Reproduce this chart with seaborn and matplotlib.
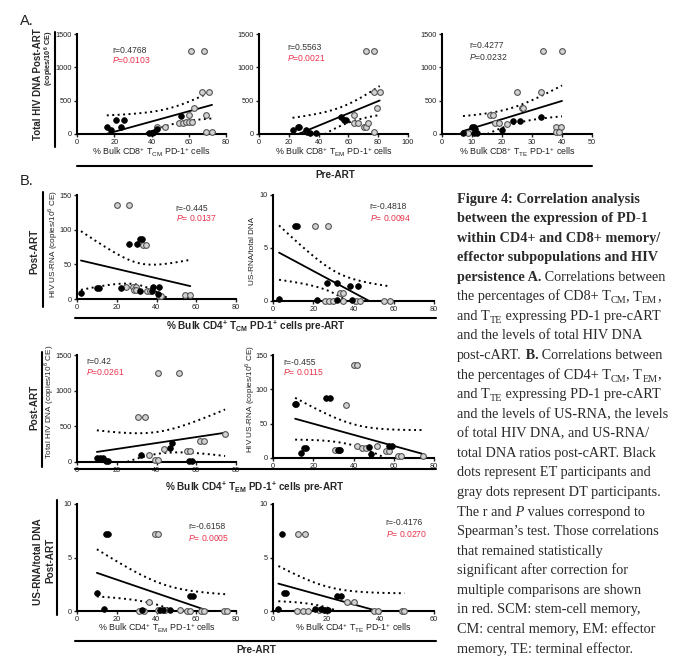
import numpy as np
import pandas as pd
import matplotlib.pyplot as plt
import seaborn as sns
from matplotlib.lines import Line2D

# ---- Panel A: % PD-1+ CD8 subsets (pre-ART) vs total HIV DNA (post-ART) ----
a1_et_x = [16, 18, 21, 25, 23.5, 38.5, 40, 41.5, 43, 56]
a1_et_y = [110, 60, 210, 210, 100, 10, 10, 35, 70, 270]
a1_dt_x = [61, 68, 67, 71, 63, 60, 69, 43, 47.5, 55, 57, 58.5, 60, 62, 69, 72.5]
a1_dt_y = [1250, 1250, 625, 625, 385, 285, 285, 100, 100, 160, 160, 180, 180, 180, 30, 30]

a2_et_x = [22.5, 26, 27, 31.5, 32.5, 34, 38, 55, 57, 58.5]
a2_et_y = [60, 100, 100, 60, 35, 20, 10, 260, 210, 210]
a2_dt_x = [71.5, 77, 77, 81, 79, 64, 64, 66.5, 70.5, 72, 73, 77]
a2_dt_y = [1250, 1250, 625, 625, 385, 285, 160, 160, 100, 100, 170, 30]

a3_et_x = [7, 10, 10.5, 11, 10.5, 11.5, 20, 23.5, 26, 33]
a3_et_y = [20, 100, 100, 70, 20, 20, 60, 200, 200, 260]
a3_dt_x = [33.5, 40, 25, 33, 26.5, 27, 16, 17, 17.5, 19, 21.5, 38, 39.5, 38, 39, 8.5]
a3_dt_y = [1250, 1250, 625, 625, 385, 385, 285, 285, 170, 160, 150, 100, 100, 30, 30, 20]

# ---- Panel B: % PD-1+ CD4 subsets (pre-ART) vs reservoir markers (post-ART) ----
b1l_et_x = [2, 10, 11, 22, 26, 30, 31.5, 32.5, 31.5, 37.5, 38, 41.5, 41]
b1l_et_y = [8.5, 15.5, 15.5, 16.5, 79, 79, 87, 87, 12, 12, 18, 18, 7.5]
b1l_dt_x = [20, 26, 33, 34.5, 24.5, 28, 29.5, 28.5, 29.5, 35, 36.5, 41.5, 42.5, 54.5, 57]
b1l_dt_y = [135, 135, 78, 78, 18, 18, 18, 12.5, 12.5, 11, 11, 5, 5, 6, 6]

b1r_et_x = [3, 11, 12, 22, 27, 32, 38.5, 42, 32, 39.5]
b1r_et_y = [0.2, 7.1, 7.1, 0.1, 1.7, 1.7, 1.4, 1.4, 0.1, 0.1]
b1r_dt_x = [21, 27.5, 33.5, 35, 26, 28, 30, 35, 41, 43, 55, 58]
b1r_dt_y = [7.1, 7.1, 0.8, 0.8, 0, 0, 0, 0, 0, 0, 0, 0]

b2l_et_x = [10, 11.5, 13, 14.5, 15.5, 32, 47, 48, 56.5, 58]
b2l_et_y = [55, 55, 55, 20, 20, 100, 195, 265, 20, 20]
b2l_dt_x = [41, 51.5, 30.5, 34, 62, 64, 74.5, 44, 55.5, 57, 36, 39, 41]
b2l_dt_y = [1250, 1250, 630, 630, 290, 290, 390, 185, 155, 155, 100, 30, 30]

b2r_et_x = [11, 11.5, 26.5, 28.5, 14, 15.5, 16.5, 32.5, 33.5, 47.5, 48.5, 57.5, 59]
b2r_et_y = [79, 79, 87, 87, 7.5, 14.5, 14.5, 11, 11, 16, 6.5, 18, 18]
b2r_dt_x = [40, 41.5, 36.5, 31, 33, 41.5, 44, 46, 51.5, 56, 57.5, 62, 63.5, 74.5]
b2r_dt_y = [135, 135, 77, 12, 12, 18, 14.5, 14.5, 18, 9.5, 9.5, 2.5, 2.5, 2.5]

b3l_et_x = [14.5, 15.5, 10, 13.5, 32.5, 42, 43.5, 47, 57, 58.5]
b3l_et_y = [7.2, 7.2, 1.7, 0.2, 0.1, 0.05, 0.05, 0.05, 1.4, 1.4]
b3l_dt_x = [39, 41, 36, 31, 33.5, 41, 44.5, 52, 55.5, 57, 62.5, 64, 74, 75.5]
b3l_dt_y = [7.2, 7.2, 0.85, 0, 0, 0.1, 0.1, 0.05, 0, 0, 0, 0, 0, 0]

b3r_et_x = [3.5, 2, 4, 5, 15.5, 18, 19.5, 20.5, 24, 25.5]
b3r_et_y = [7.2, 0.15, 1.7, 1.7, 0.15, 0.15, 0.05, 0.05, 1.4, 1.4]
b3r_dt_x = [9.5, 12, 27.5, 30, 9, 11, 13, 17, 19, 37.5, 39, 48, 49]
b3r_dt_y = [7.2, 7.2, 0.85, 0.85, 0, 0, 0, 0.1, 0.1, 0, 0, 0, 0]

# caption: each line is a list of (text, style) runs; b=bold, r=regular, i=italic, sub=subscript
caption_lines = [
    [("Figure 4: Correlation analysis", 'b')],
    [("between the expression of PD-1", 'b')],
    [("within CD4+ and CD8+ memory/", 'b')],
    [("effector subpopulations and HIV", 'b')],
    [("persistence A.", 'b'), (" Correlations between", 'r')],
    [("the percentages of CD8+ T", 'r'), ("CM", 'sub'), (", T", 'r'), ("EM", 'sub'), (",", 'r')],
    [("and T", 'r'), ("TE", 'sub'), (" expressing PD-1 pre-cART", 'r')],
    [("and the levels of total HIV DNA", 'r')],
    [("post-cART.", 'r'), (" B.", 'b'), (" Correlations between", 'r')],
    [("the percentages of CD4+ T", 'r'), ("CM", 'sub'), (", T", 'r'), ("EM", 'sub'), (",", 'r')],
    [("and T", 'r'), ("TE", 'sub'), (" expressing PD-1 pre-cART", 'r')],
    [("and the levels of US-RNA, the levels", 'r')],
    [("of total HIV DNA, and US-RNA/", 'r')],
    [("total DNA ratios post-cART. Black", 'r')],
    [("dots represent ET participants and", 'r')],
    [("gray dots represent DT participants.", 'r')],
    [("The r and", 'r'), (" P", 'i'), (" values correspond to", 'r')],
    [("Spearman\u2019s test. Those correlations", 'r')],
    [("that remained statistically", 'r')],
    [("significant after correction for", 'r')],
    [("multiple comparisons are shown", 'r')],
    [("in red. SCM: stem-cell memory,", 'r')],
    [("CM: central memory, EM: effector", 'r')],
    [("memory, TE: terminal effector.", 'r')],
]

W, H = 679, 658
RED = '#e8344e'
TXT = '#333333'

sns.set_style("ticks")
plt.rcParams['font.family'] = ['Liberation Sans', 'DejaVu Sans']
plt.rcParams['mathtext.fontset'] = 'custom'
plt.rcParams['mathtext.rm'] = 'Liberation Sans'
plt.rcParams['mathtext.sf'] = 'Liberation Sans'
plt.rcParams['mathtext.tt'] = 'Liberation Sans:bold'
plt.rcParams['mathtext.cal'] = 'Liberation Sans:italic'

fig = plt.figure(figsize=(W / 100, H / 100), dpi=100)


def px_axes(left, top, right, bottom):
    return fig.add_axes([left / W, 1 - bottom / H, (right - left) / W, (bottom - top) / H])


def ftext(x, y, s, **kw):
    return fig.text(x / W, 1 - y / H, s, **kw)


def fline(xs, ys, lw=1.5):
    fig.add_artist(Line2D([x / W for x in xs], [1 - y / H for y in ys],
                          transform=fig.transFigure, color='black', lw=lw))


def bulk_label(cd, sub, bold=False):
    f = r'\mathtt' if bold else r'\mathsf'
    return ("% Bulk " + cd + "$^{" + f + "{+}}$ T$_{" + f + "{" + sub + "}}$ PD-1$^{"
            + f + "{+}}$ cells")


def corr_panel(ax, et_x, et_y, dt_x, dt_y, xmax, xstep, ymax, ystep,
               r_txt, p_txt, p_color, tx, ty_r, ty_p):
    x_all = np.array(et_x + dt_x, dtype=float)
    y_all = np.array(et_y + dt_y, dtype=float)
    df = pd.DataFrame({'x': x_all, 'y': y_all})
    sns.regplot(data=df, x='x', y='y', scatter=False, ci=None, truncate=True, ax=ax,
                line_kws=dict(color='black', lw=1.3, zorder=2))
    # 95% confidence band of the regression line, dotted like Prism
    n = len(x_all)
    slope, icpt = np.polyfit(x_all, y_all, 1)
    resid = y_all - (slope * x_all + icpt)
    s = np.sqrt(np.sum(resid ** 2) / (n - 2))
    xs = np.linspace(x_all.min(), x_all.max(), 150)
    sxx = np.sum((x_all - x_all.mean()) ** 2)
    se = s * np.sqrt(1 / n + (xs - x_all.mean()) ** 2 / sxx)
    fit = slope * xs + icpt
    for band in (fit + 2.07 * se, fit - 2.07 * se):
        ax.plot(xs, band, color='black', lw=1.4, ls=(0, (1, 1.8)), zorder=2)

    sns.scatterplot(x=dt_x, y=dt_y, ax=ax, color='#d2d2d2', edgecolor='#555555',
                    linewidth=0.8, s=17, clip_on=False, zorder=3)
    sns.scatterplot(x=et_x, y=et_y, ax=ax, color='black', edgecolor='black',
                    linewidth=0.5, s=17, clip_on=False, zorder=4)

    ax.set_xlim(0, xmax)
    ax.set_ylim(0, ymax)
    ax.set_xticks(np.arange(0, xmax + 0.1, xstep))
    ax.set_yticks(np.arange(0, ymax + 0.1, ystep))
    ax.set_xlabel('')
    ax.set_ylabel('')
    ax.patch.set_alpha(0)
    sns.despine(ax=ax)
    for sp in ('left', 'bottom'):
        ax.spines[sp].set_linewidth(1.5)
        ax.spines[sp].set_color('black')
    ax.tick_params(labelsize=5.3, length=2.5, width=1, pad=1, colors='#222222')
    ax.text(tx, ty_r, r_txt, transform=ax.transAxes, fontsize=6.2, color=TXT, va='center')
    ax.text(tx, ty_p, p_txt, transform=ax.transAxes, fontsize=6.2, color=p_color, va='center')


# ---- Panel A ----
ax = px_axes(77, 34, 226, 134)
corr_panel(ax, a1_et_x, a1_et_y, a1_dt_x, a1_dt_y, 80, 20, 1500, 500,
           "r=0.4768", r"$\mathcal{P}$=0.0103", RED, 0.235, 0.84, 0.74)
ax = px_axes(259, 34, 408, 134)
corr_panel(ax, a2_et_x, a2_et_y, a2_dt_x, a2_dt_y, 100, 20, 1500, 500,
           "r=0.5563", r"$\mathcal{P}$=0.0021", RED, 0.19, 0.87, 0.76)
ax = px_axes(442, 34, 592, 134)
corr_panel(ax, a3_et_x, a3_et_y, a3_dt_x, a3_dt_y, 50, 10, 1500, 500,
           "r=0.4277", r"$\mathcal{P}$=0.0232", TXT, 0.18, 0.89, 0.77)

ftext(20, 21, "A.", fontsize=10.5, va='center', color='#222222')
ftext(38, 84, "Total HIV DNA Post-ART", rotation=90, fontsize=7, fontweight='bold',
      ha='center', va='center')
ftext(49, 58, r"(copies/10$^{\mathtt{6}}$ CE)", rotation=90, fontsize=5.3, fontweight='bold',
      ha='center', va='center')
fline([55, 55], [32, 147])
for cx, sub in [(151.5, 'CM'), (333.5, 'EM'), (517, 'TE')]:
    ftext(cx, 152, bulk_label('CD8', sub), fontsize=6.4, ha='center', va='center',
          color='#222222')
fline([77, 592], [166, 166])
ftext(335, 175, "Pre-ART", fontsize=7.2, fontweight='bold', ha='center', va='center')

# ---- Panel B ----
ftext(20, 181, "B.", fontsize=10.5, va='center', color='#222222')

ax = px_axes(77, 195, 236, 299)
corr_panel(ax, b1l_et_x, b1l_et_y, b1l_dt_x, b1l_dt_y, 80, 20, 150, 50,
           "r=-0.445", r"$\mathcal{P}$= 0.0137", RED, 0.62, 0.875, 0.78)
ax = px_axes(273, 195, 434, 301)
corr_panel(ax, b1r_et_x, b1r_et_y, b1r_dt_x, b1r_dt_y, 80, 20, 10, 5,
           "r=-0.4818", r"$\mathcal{P}$= 0.0094", RED, 0.60, 0.887, 0.78)
ftext(34, 251, "Post-ART", rotation=90, fontsize=7.2, fontweight='bold', ha='center', va='center')
fline([43, 43], [192, 307])
ftext(53, 244, r"HIV US-RNA (copies/10$^{\mathsf{6}}$ CE)", rotation=90, fontsize=5.9,
      ha='center', va='center', color='#222222')
ftext(252, 251, "US-RNA/total DNA", rotation=90, fontsize=5.9, ha='center', va='center',
      color='#222222')
fline([75, 436], [318, 318])
ftext(256, 326, bulk_label('CD4', 'CM', bold=True) + " pre-ART",
      fontsize=7.2, fontweight='bold', ha='center', va='center')

ax = px_axes(77, 355, 236, 462)
corr_panel(ax, b2l_et_x, b2l_et_y, b2l_dt_x, b2l_dt_y, 80, 20, 1500, 500,
           "r=0.42", r"$\mathcal{P}$=0.0261", RED, 0.057, 0.935, 0.84)
ax = px_axes(273, 355, 434, 458)
corr_panel(ax, b2r_et_x, b2r_et_y, b2r_dt_x, b2r_dt_y, 80, 20, 150, 50,
           "r=-0.455", r"$\mathcal{P}$= 0.0115", RED, 0.062, 0.93, 0.835)
ftext(34, 407, "Post-ART", rotation=90, fontsize=7.2, fontweight='bold', ha='center', va='center')
fline([42, 42], [352, 467])
ftext(49, 402, r"Total HIV DNA (copies/10$^{\mathsf{6}}$ CE)", rotation=90, fontsize=5.9,
      ha='center', va='center', color='#222222')
ftext(250, 399, r"HIV US-RNA (copies/10$^{\mathsf{6}}$ CE)", rotation=90, fontsize=5.9,
      ha='center', va='center', color='#222222')
fline([75, 436], [469, 469])
ftext(255, 487, bulk_label('CD4', 'EM', bold=True) + " pre-ART",
      fontsize=7.2, fontweight='bold', ha='center', va='center')

ax = px_axes(77, 504, 236, 611)
corr_panel(ax, b3l_et_x, b3l_et_y, b3l_dt_x, b3l_dt_y, 80, 20, 10, 5,
           "r=-0.6158", r"$\mathcal{P}$= 0.0005", RED, 0.70, 0.79, 0.68)
ax = px_axes(273, 504, 434, 611)
corr_panel(ax, b3r_et_x, b3r_et_y, b3r_dt_x, b3r_dt_y, 60, 20, 10, 5,
           "r=-0.4176", r"$\mathcal{P}$= 0.0270", RED, 0.70, 0.83, 0.72)
ftext(38, 562, "US-RNA/total DNA", rotation=90, fontsize=7.2, fontweight='bold',
      ha='center', va='center')
ftext(50, 560, "Post-ART", rotation=90, fontsize=7.2, fontweight='bold', ha='center', va='center')
fline([57, 57], [500, 615])
ftext(156.5, 628, bulk_label('CD4', 'EM'), fontsize=6.4, ha='center', va='center',
      color='#222222')
ftext(353.5, 628, bulk_label('CD4', 'TE'), fontsize=6.4, ha='center', va='center',
      color='#222222')
fline([75, 436], [641, 641])
ftext(256, 650, "Pre-ART", fontsize=7.2, fontweight='bold', ha='center', va='center')

# ---- Caption (runs placed one after another using measured widths) ----
renderer = fig.canvas.get_renderer()
run_style = {'b': dict(fontweight='bold'), 'r': dict(), 'i': dict(fontstyle='italic'),
             'sub': dict(fontsize=7.3)}
for i, runs in enumerate(caption_lines):
    x = 457.0
    y = 202.5 + 19.57 * i
    for txt, kind in runs:
        kw = dict(fontsize=10.3, family='Liberation Serif', color='#2a2a2a', va='baseline')
        kw.update(run_style[kind])
        t = ftext(x, y + 3 if kind == 'sub' else y, txt, **kw)
        x += t.get_window_extent(renderer=renderer).width

fig.savefig('out.png', dpi=100)
